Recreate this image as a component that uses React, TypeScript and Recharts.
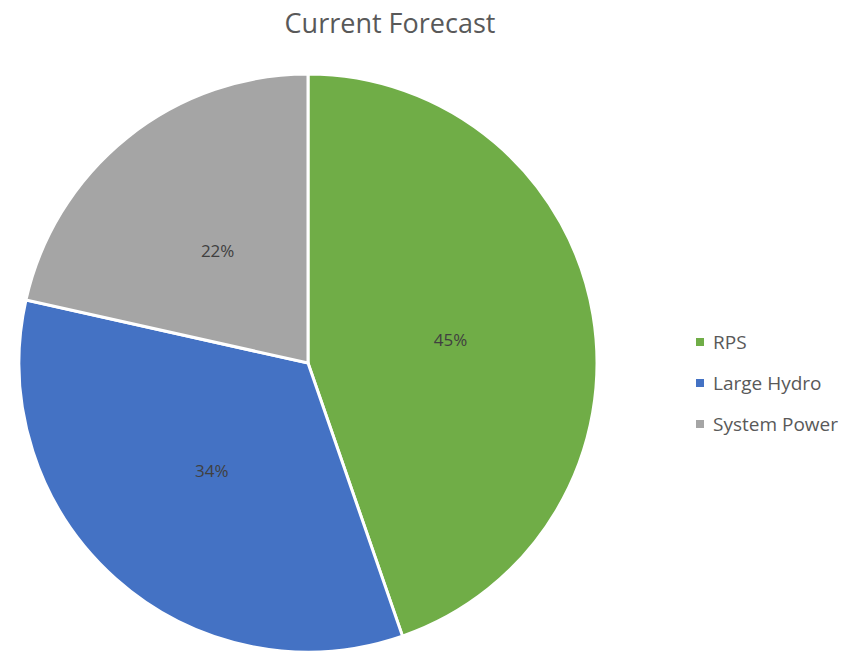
import { PieChart, Pie, Cell, Legend } from 'recharts';

const CATEGORIES = ['RPS', 'Large Hydro', 'System Power'];
const SHARES = [44.7, 33.8, 21.5];
const LABELS = ['45%', '34%', '22%'];
const COLORS = ['#70AD47', '#4472C4', '#A5A5A5'];

const FONT = '"Open Sans", sans-serif';

const data = CATEGORIES.map((name, i) => ({ name, value: SHARES[i], label: LABELS[i] }));

const RADIAN = Math.PI / 180;

function renderLabel(props: any) {
  const { cx, cy, midAngle, outerRadius, index } = props;
  const r = outerRadius * 0.5;
  const x = cx + r * Math.cos(-midAngle * RADIAN);
  const y = cy + r * Math.sin(-midAngle * RADIAN);
  return (
    <text
      x={x}
      y={y}
      fill="#404040"
      fontSize={17}
      fontFamily={FONT}
      textAnchor="middle"
      dominantBaseline="central"
    >
      {LABELS[index]}
    </text>
  );
}

function LegendContent() {
  return (
    <div style={{ fontFamily: FONT, fontSize: 19, color: '#595959', whiteSpace: 'nowrap' }}>
      {CATEGORIES.map((c, i) => (
        <div key={c} style={{ display: 'flex', alignItems: 'center', height: 41 }}>
          <span
            style={{
              display: 'inline-block',
              width: 8,
              height: 8,
              background: COLORS[i],
              marginRight: 9,
            }}
          />
          <span>{c}</span>
        </div>
      ))}
    </div>
  );
}

export default function App() {
  return (
    <div style={{ position: 'relative', width: 841, height: 644, background: '#fff' }}>
      <div
        style={{
          position: 'absolute',
          top: -2,
          left: 0,
          width: 764,
          textAlign: 'center',
          fontFamily: FONT,
          fontSize: 27,
          color: '#595959',
          lineHeight: '34px',
        }}
      >
        Current Forecast
      </div>
      <PieChart width={841} height={644} margin={{ top: 0, right: 0, bottom: 0, left: 0 }}>
        <Pie
          data={data}
          dataKey="value"
          nameKey="name"
          cx={300}
          cy={355}
          outerRadius={289}
          startAngle={90}
          endAngle={-270}
          stroke="#ffffff"
          strokeWidth={3}
          label={renderLabel}
          labelLine={false}
          isAnimationActive={false}
        >
          {data.map((_, i) => (
            <Cell key={i} fill={COLORS[i]} />
          ))}
        </Pie>
        <Legend
          layout="vertical"
          content={<LegendContent />}
          wrapperStyle={{ position: 'absolute', left: 688, top: 313, width: 150 }}
        />
      </PieChart>
    </div>
  );
}
